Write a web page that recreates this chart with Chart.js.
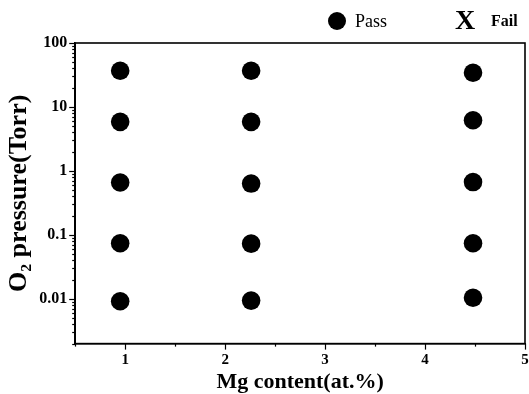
<!DOCTYPE html>
<html><head><meta charset="utf-8">
<script src="https://cdn.jsdelivr.net/npm/chart.js@4"></script>
<style>html,body{margin:0;padding:0;background:#fff}#wrap{width:529px;height:394px;position:relative}</style>
</head><body><div id="wrap"><canvas id="c"></canvas></div>
<script>
// ---- data ----
const mgContent = [0.95, 2.26, 4.48];                   // Mg content (at.%) of the three sample columns
const pressureCol1 = [36.8, 5.85, 0.66, 0.074, 0.0092];  // O2 pressure (Torr), Mg = 0.95
const pressureCol2 = [36.8, 5.85, 0.635, 0.073, 0.0094]; // Mg = 2.26
const pressureCol3 = [34.3, 6.2, 0.67, 0.074, 0.0104];   // Mg = 4.48
const failPoints = [];                                   // no "Fail" samples
const seriesLabels = ['Pass', 'Fail'];
const yMajorTicks = [0.01, 0.1, 1, 10, 100];
const yTickLabels = ['0.01', '0.1', '1', '10', '100'];
const xMajorTicks = [1, 2, 3, 4, 5];
const xTickLabels = ['1', '2', '3', '4', '5'];
const xTitle = 'Mg content(at.%)';
const yTitle = 'O\u2082 pressure(Torr)';

const passPoints = [];
[pressureCol1, pressureCol2, pressureCol3].forEach((col, i) => {
  col.forEach(p => passPoints.push({x: mgContent[i], y: p}));
});

const SERIF = '"Liberation Serif", "Times New Roman", serif';

// legend symbol for "Fail": a serif X
const xMark = document.createElement('canvas');
xMark.width = 24; xMark.height = 22;
(function(){
  const g = xMark.getContext('2d');
  g.fillStyle = '#000';
  g.font = 'bold 28px ' + SERIF;
  g.textAlign = 'center'; g.textBaseline = 'middle';
  g.fillText('X', 12, 12);
})();

// legend drawn at the top right, from the datasets
const topLegend = {
  id: 'topLegend',
  afterDraw(chart) {
    const ctx = chart.ctx;
    const items = [
      {sym: 337, text: 355, font: '18px ' + SERIF},
      {sym: 465, text: 491, font: 'bold 16px ' + SERIF}
    ];
    const cy = 21;
    ctx.save();
    chart.data.datasets.forEach((ds, i) => {
      const it = items[i];
      ctx.fillStyle = '#000';
      if (ds.pointStyle === 'circle') {
        ctx.beginPath(); ctx.arc(it.sym, cy, 9, 0, Math.PI * 2); ctx.fill();
      } else {
        ctx.drawImage(ds.pointStyle, it.sym - ds.pointStyle.width / 2, cy - ds.pointStyle.height / 2);
      }
      ctx.font = it.font;
      ctx.textAlign = 'left'; ctx.textBaseline = 'middle';
      ctx.fillText(ds.label, it.text, cy + 1);
    });
    ctx.restore();
  }
};

const frameTicks = {
  id: 'frameTicks',
  afterDraw(chart) {
    const {ctx, chartArea: a, scales: {x, y}} = chart;
    ctx.save();
    ctx.strokeStyle = '#000';
    ctx.lineWidth = 1.6;
    ctx.strokeRect(a.left, a.top, a.right - a.left, a.bottom - a.top);
    ctx.lineWidth = 1.2;
    y.ticks.forEach(t => {
      const p = Math.round(y.getPixelForValue(t.value)) + 0.5;
      const len = yMajorTicks.includes(t.value) ? 6 : 3;
      ctx.beginPath(); ctx.moveTo(a.left, p); ctx.lineTo(a.left - len, p); ctx.stroke();
    });
    x.ticks.forEach(t => {
      const p = Math.round(x.getPixelForValue(t.value)) + 0.5;
      const len = xMajorTicks.includes(t.value) ? 6 : 3;
      ctx.beginPath(); ctx.moveTo(p, a.bottom); ctx.lineTo(p, a.bottom + len); ctx.stroke();
    });
    ctx.restore();
  }
};

new Chart(document.getElementById('c'), {
  type: 'scatter',
  data: {
    datasets: [
      {label: seriesLabels[0], data: passPoints, pointStyle: 'circle', pointRadius: 9.3,
       backgroundColor: '#000', borderColor: '#000', borderWidth: 0, pointHoverRadius: 9.3},
      {label: seriesLabels[1], data: failPoints, pointStyle: xMark, pointRadius: 9,
       backgroundColor: '#000', borderColor: '#000'}
    ]
  },
  options: {
    responsive: true, maintainAspectRatio: false, animation: false, devicePixelRatio: 1,
    layout: {autoPadding: false, padding: {top: 43, left: 1, right: 4, bottom: -2}},
    plugins: {
      tooltip: {enabled: false},
      legend: {display: false}
    },
    scales: {
      x: {
        type: 'linear', min: 0.5, max: 5,
        afterBuildTicks: s => {
          const t = [];
          for (let v = 0.5; v <= 5.0001; v += 0.5) t.push({value: Math.round(v * 10) / 10});
          s.ticks = t;
        },
        afterFit: s => { s.paddingRight = 0; s.paddingLeft = 0; },
        ticks: {
          autoSkip: false, maxRotation: 0, padding: 2, color: '#000',
          font: {family: SERIF, size: 15, weight: 'bold'},
          callback: v => { const i = xMajorTicks.indexOf(v); return i >= 0 ? xTickLabels[i] : ''; }
        },
        grid: {drawOnChartArea: false, drawTicks: true, tickLength: 6, color: 'rgba(0,0,0,0)'},
        border: {display: true, color: '#000', width: 1.6},
        title: {display: true, text: xTitle, color: '#000', font: {family: SERIF, size: 22, weight: 'bold'}, padding: {top: -2, bottom: 0}}
      },
      y: {
        type: 'logarithmic', min: 0.002, max: 100,
        afterBuildTicks: s => {
          const t = [];
          for (let e = -3; e <= 2; e++) for (let m = 1; m <= 9; m++) {
            const v = Number((m * Math.pow(10, e)).toPrecision(3));
            if (v >= 0.002 && v <= 100) t.push({value: v});
          }
          s.ticks = t;
        },
        ticks: {
          autoSkip: false, padding: 2, color: '#000',
          font: {family: SERIF, size: 16, weight: 'bold'},
          callback: v => { const i = yMajorTicks.indexOf(v); return i >= 0 ? yTickLabels[i] : ''; }
        },
        grid: {drawOnChartArea: false, drawTicks: true, tickLength: 6, color: 'rgba(0,0,0,0)'},
        border: {display: true, color: '#000', width: 1.6},
        title: {display: true, text: yTitle, color: '#000', font: {family: SERIF, size: 26, weight: 'bold'}, padding: {top: 3, bottom: 2}}
      }
    }
  },
  plugins: [frameTicks, topLegend]
});
</script>
</body></html>
